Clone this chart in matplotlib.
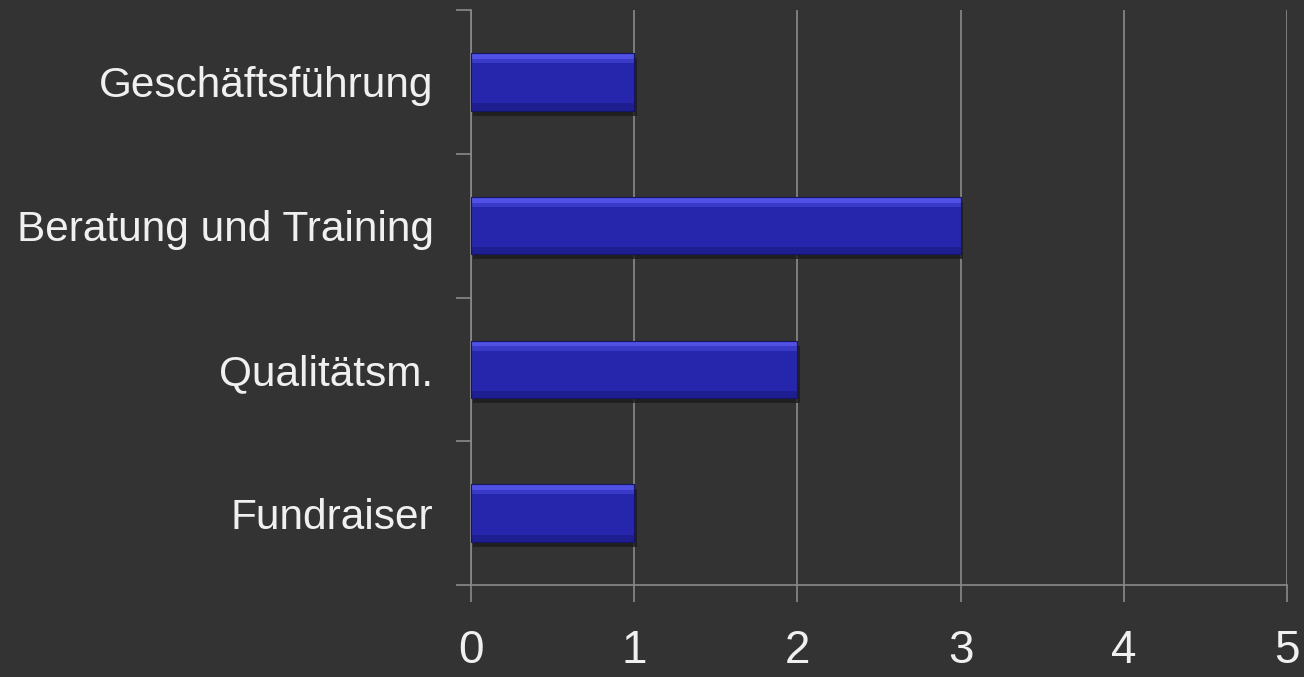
import matplotlib.pyplot as plt
import numpy as np

categories = ['Geschäftsführung', 'Beratung und Training', 'Qualitätsm.', 'Fundraiser']
values = [1, 3, 2, 1]
xticks = [0, 1, 2, 3, 4, 5]

bg = '#333333'
linecol = '#8a8a8a'
txtcol = '#f0f0f0'

plt.rcParams['font.family'] = ['Liberation Sans', 'DejaVu Sans']

fig = plt.figure(figsize=(13.04, 6.77), dpi=100, facecolor=bg)
ax = fig.add_axes([471 / 1304, 1 - 585 / 677, (1287 - 471) / 1304, 575 / 677])
ax.set_facecolor(bg)

y = np.arange(len(categories))[::-1]
h = 0.4

# shadow
ax.barh(y - 0.035, values, height=h, left=0.015, color='#1c1c1c', alpha=0.8, zorder=2)
# body with bevel strips
ax.barh(y, values, height=h, color='#2626ac', zorder=3)
ax.barh(y + h / 2 - 0.02, values, height=0.04, color='#5050e4', zorder=4)
ax.barh(y + h / 2 - 0.055, values, height=0.03, color='#3a3ac8', zorder=4)
ax.barh(y - h / 2 + 0.025, values, height=0.05, color='#1e1e90', zorder=4)
ax.barh(y, values, height=h, fill=False, edgecolor='#151560', linewidth=0.8, zorder=5)

ax.set_xlim(0, 5)
ax.set_ylim(-0.5, len(categories) - 0.5)
ax.set_xticks(xticks)
ax.set_xticklabels([str(t) for t in xticks])
ax.set_yticks(np.arange(-0.5, len(categories), 1))
ax.set_yticklabels([])
ax.set_yticks(y, categories, minor=True)
ax.tick_params(axis='y', which='minor', length=0, pad=27, labelsize=30.5, labelcolor=txtcol)
ax.tick_params(axis='y', which='major', length=11, width=1.2, color=linecol, direction='out')
ax.tick_params(axis='x', length=12, width=1.2, color=linecol, direction='out',
               labelsize=33, labelcolor=txtcol, pad=20)

ax.xaxis.grid(True, color=linecol, linewidth=1.2, zorder=1)
ax.set_axisbelow(True)
for s in ['top', 'right']:
    ax.spines[s].set_visible(False)
for s in ['left', 'bottom']:
    ax.spines[s].set_color(linecol)
    ax.spines[s].set_linewidth(1.2)

fig.savefig('out.png', dpi=100, facecolor=bg)
